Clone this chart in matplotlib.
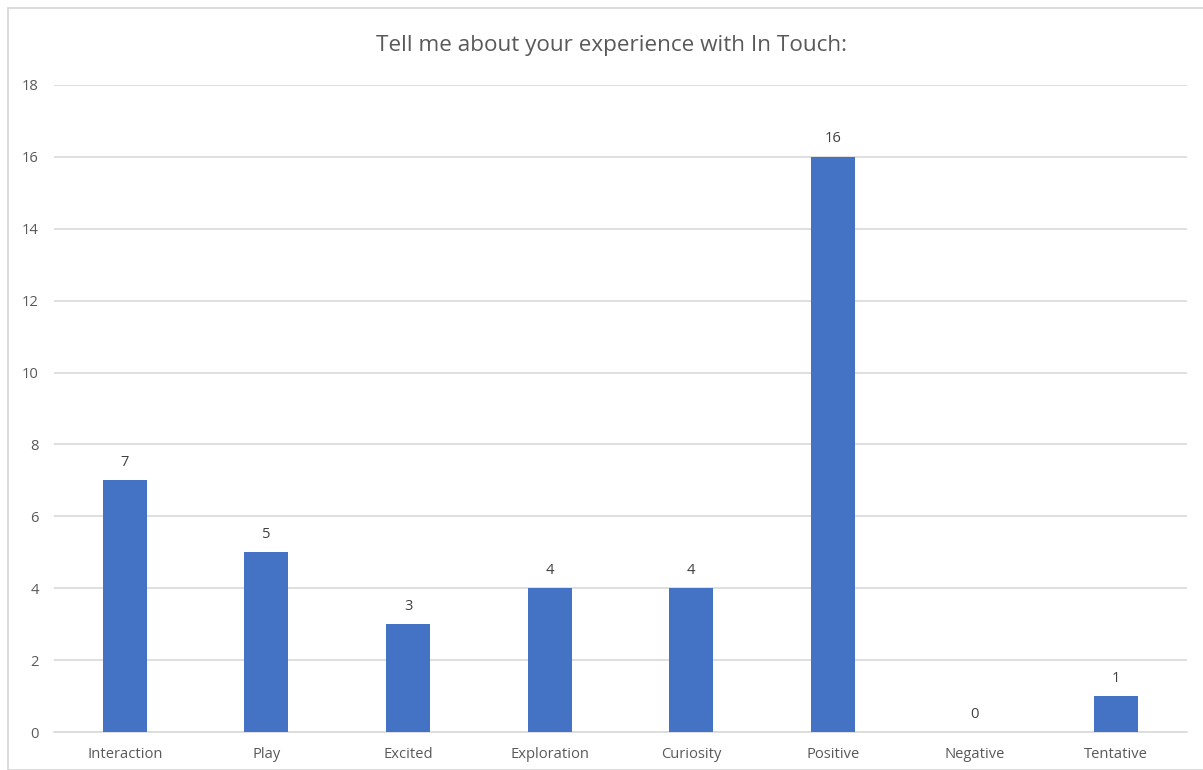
import matplotlib
matplotlib.use("Agg")
import matplotlib.pyplot as plt
from matplotlib.patches import Rectangle

categories = ["Interaction", "Play", "Excited", "Exploration", "Curiosity", "Positive", "Negative", "Tentative"]
values = [7, 5, 3, 4, 4, 16, 0, 1]
yticks = [0, 2, 4, 6, 8, 10, 12, 14, 16, 18]
title = "Tell me about your experience with In Touch:"

plt.rcParams['font.family'] = ['Open Sans', 'DejaVu Sans']

W, H = 1203, 770
fig = plt.figure(figsize=(W / 100, H / 100), dpi=100)
fig.patch.set_facecolor("white")

# chart border
fig.patches.append(Rectangle((8 / W, 0), (W + 5 - 8) / W, 1 - 8 / H,
                             transform=fig.transFigure, fill=False,
                             edgecolor="#D9D9D9", linewidth=1.3))

ax = fig.add_axes([54 / W, 1 - 732 / H, (1187 - 54) / W, (732 - 85) / H])
x = list(range(len(categories)))
bars = ax.bar(x, values, width=0.31, color="#4472C4", zorder=3)
ax.set_xlim(-0.5, len(categories) - 0.5)
ax.set_ylim(0, 18)
ax.set_yticks(yticks)
ax.set_xticks(x)
ax.set_xticklabels(categories)
ax.grid(axis="y", color="#D9D9D9", linewidth=1.2, zorder=0)
for s in ["top", "right", "left"]:
    ax.spines[s].set_visible(False)
ax.spines["bottom"].set_color("#D9D9D9")
ax.spines["bottom"].set_linewidth(1.2)
ax.tick_params(axis="both", length=0, labelsize=10.6, labelcolor="#595959")
ax.tick_params(axis="y", pad=11)
ax.tick_params(axis="x", pad=10.5)

for xi, v in zip(x, values):
    ax.annotate(str(v), (xi, v), xytext=(0, 7.5), textcoords="offset points",
                ha="center", va="bottom", fontsize=10.6, color="#404040")

fig.text(612 / W, 1 - 45 / H, title, ha="center", va="center",
         fontsize=16.2, color="#595959")

fig.savefig("out.png", dpi=100)
